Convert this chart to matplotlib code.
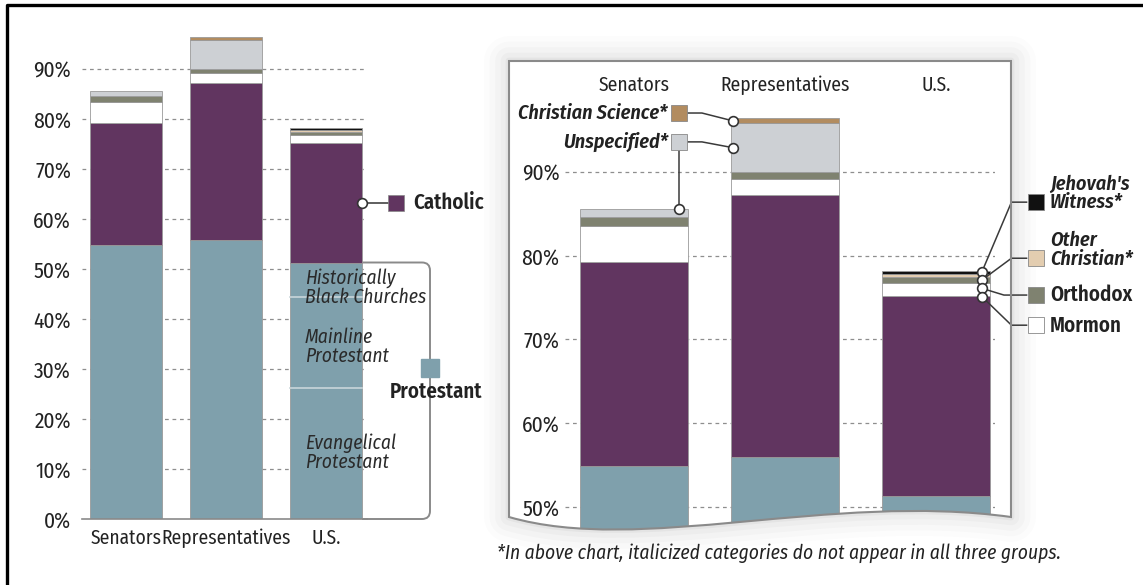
import matplotlib
matplotlib.use('Agg')
import matplotlib.pyplot as plt
from matplotlib.path import Path
from matplotlib.patches import PathPatch
from matplotlib.transforms import Affine2D

plt.rcParams['font.family'] = ['Fira Sans Condensed', 'DejaVu Sans']

# ---- data (percent of each group) ----
groups = ['Senators', 'Representatives', 'U.S.']
protestant = [54.9, 55.9, 51.3]
catholic = [24.3, 31.3, 23.9]
mormon = [4.3, 2.0, 1.6]
orthodox = [1.1, 0.8, 0.6]
other_christian = [0.0, 0.0, 0.4]
jehovahs_witness = [0.0, 0.0, 0.4]
unspecified = [1.0, 5.8, 0.0]
christian_science = [0.0, 0.6, 0.0]

# U.S. protestant breakdown (bottom to top)
us_prot_labels = ['Evangelical\nProtestant', 'Mainline\nProtestant', 'Historically\nBlack Churches']
us_prot_values = [26.3, 18.1, 6.9]

left_ticks = list(range(0, 100, 10))
right_ticks = list(range(50, 100, 10))

series = [
    ('Protestant', protestant, '#7fa0ac'),
    ('Catholic', catholic, '#613560'),
    ('Mormon', mormon, '#ffffff'),
    ('Orthodox', orthodox, '#7f8270'),
    ('Other Christian', other_christian, '#e3cdb0'),
    ("Jehovah's Witness", jehovahs_witness, '#111111'),
    ('Unspecified', unspecified, '#cdd0d4'),
    ('Christian Science', christian_science, '#b28c60'),
]
colors = {name: c for name, vals, c in series}

W, H = 1143, 585
fig = plt.figure(figsize=(W / 100, H / 100), dpi=100)
px = Affine2D().scale(1.0 / W, 1.0 / H) + fig.transFigure   # image pixel helper

FS = 14          # plain labels
FS_TICK = 15.5   # percent ticks
FS_KEY = 15      # semibold legend names
FS_KEYI = 14.5   # semibold italic legend names
txt = '#222222'


def fpos(x0, y_top, x1, y_bot):
    return [x0 / W, 1 - y_bot / H, (x1 - x0) / W, (y_bot - y_top) / H]


def stack(ax, width, clip=None):
    xs = range(len(groups))
    bottoms = [0.0] * len(groups)
    tops = {}
    for name, vals, col in series:
        for i in xs:
            if vals[i] > 0:
                r = ax.bar(i, vals[i], width, bottom=bottoms[i], color=col,
                           edgecolor='#9a9a9a', linewidth=0.6, zorder=2)
                if clip is not None:
                    r[0].set_clip_path(clip)
            tops[(name, i)] = (bottoms[i], bottoms[i] + vals[i])
            bottoms[i] += vals[i]
    return bottoms, tops


# ================= left chart =================
ax1 = fig.add_axes(fpos(82, 19, 367, 519))
ax1.patch.set_visible(False)
ax1.set_xlim(-0.44, 2.41)
ax1.set_ylim(0, 100)
for v in left_ticks[1:]:
    ax1.axhline(v, color='#8e8e8e', lw=0.9, ls=(0, (3, 3)), zorder=0)
bw = 0.72
tot1, seg1 = stack(ax1, bw)
for s in ['top', 'right', 'left']:
    ax1.spines[s].set_visible(False)
ax1.spines['bottom'].set_color('#8a8a8a')
ax1.spines['bottom'].set_linewidth(1.2)
ax1.set_yticks(left_ticks)
ax1.set_yticklabels([f'{v}%' for v in left_ticks], fontsize=FS_TICK, color=txt)
ax1.set_xticks(range(len(groups)))
ax1.set_xticklabels(groups, fontsize=FS, color=txt)
ax1.tick_params(length=0, axis='y', pad=8)
ax1.tick_params(length=0, axis='x', pad=7)

# protestant breakdown in U.S. bar
cum = 0
nudge = [0, -1.0, -1.6]
for lab, v, dy in zip(us_prot_labels, us_prot_values, nudge):
    if cum > 0:
        ax1.plot([2 - bw / 2, 2 + bw / 2], [cum, cum], color='#c9d6da', lw=1.2, zorder=3)
    ax1.text(1.79, cum + v / 2 + dy, lab, fontsize=FS, style='italic', color='#2a2a2a',
             va='center', ha='left', linespacing=0.95, zorder=4)
    cum += v

xr = 2 + bw / 2
# Catholic callout
cb, ct = seg1[('Catholic', 2)]
cy = (cb + ct) / 2
ax1.plot([xr, 2.62], [cy, cy], color='#333', lw=1.1, clip_on=False, zorder=5)
ax1.plot([xr], [cy], 'o', ms=7, mfc='white', mec='#333', mew=1.2, clip_on=False, zorder=6)
ax1.plot([2.695], [cy], 's', ms=12, mfc=colors['Catholic'], mec='#888', mew=0.5, clip_on=False, zorder=6)
ax1.text(2.87, cy, 'Catholic', fontsize=FS_KEY, fontweight='semibold', color=txt, va='center',
         ha='left', clip_on=False)

# Protestant bracket
pt = protestant[2]
xb, rx, ry = 3.04, 0.08, 1.6
verts = [(xr, pt), (xb - rx, pt), (xb, pt), (xb, pt - ry), (xb, ry), (xb, 0), (xb - rx, 0), (xr, 0)]
codes = [Path.MOVETO, Path.LINETO, Path.CURVE3, Path.CURVE3, Path.LINETO, Path.CURVE3, Path.CURVE3, Path.LINETO]
ax1.add_patch(PathPatch(Path(verts, codes), fill=False, edgecolor='#8a8a8a', lw=1.4,
                        clip_on=False, zorder=1))
ax1.plot([xb], [30.2], 's', ms=13, mfc=colors['Protestant'], mec='#7fa0ac', clip_on=False, zorder=6)
ax1.text(3.1, 25.4, 'Protestant', fontsize=FS_KEY, fontweight='semibold', color=txt, va='center',
         ha='center', clip_on=False, zorder=6)

# ================= right (zoomed) panel =================
wave_r, wave_l = (1011, 517), (509, 517)
pv = [(509, 61), (1011, 61), wave_r, (830, 492), (640, 555), wave_l, (509, 61)]
pc = [Path.MOVETO, Path.LINETO, Path.LINETO, Path.CURVE4, Path.CURVE4, Path.CURVE4, Path.CLOSEPOLY]
panel_path = Path([(x, H - y) for x, y in pv], pc)

for lw, a in [(36, 0.010), (28, 0.014), (20, 0.018), (12, 0.024), (5, 0.035)]:
    fig.add_artist(PathPatch(panel_path, transform=px, fill=False, edgecolor='black',
                             lw=lw, alpha=a, zorder=-3, joinstyle='round'))
fig.add_artist(PathPatch(panel_path, transform=px, facecolor='white', edgecolor='none', zorder=-2))
clip = PathPatch(panel_path, transform=px, facecolor='none', edgecolor='none')

ax2 = fig.add_axes(fpos(565, 60.7, 995, 540.3))
ax2.patch.set_visible(False)
ax2.set_xlim(-0.457, 2.391)
ax2.set_ylim(46, 103.3)
for v in right_ticks:
    ln = ax2.axhline(v, color='#8e8e8e', lw=0.9, ls=(0, (3, 3)), zorder=0)
    ln.set_clip_path(clip)
bw2 = 0.715
tot2, seg2 = stack(ax2, bw2, clip=clip)
for s in ax2.spines.values():
    s.set_visible(False)
ax2.set_xticks([])
ax2.set_yticks(right_ticks)
ax2.set_yticklabels([f'{v}%' for v in right_ticks], fontsize=FS_TICK, color=txt)
ax2.tick_params(length=0, axis='y', pad=4)
for i, g in enumerate(groups):
    ax2.text(i, 100.4, g, fontsize=FS, color=txt, ha='center', va='center')

fig.add_artist(PathPatch(panel_path, transform=px, fill=False, edgecolor='#8a8a8a', lw=1.5, zorder=5))

lc = '#3a3a3a'


def circle(ax, x, y):
    ax.plot([x], [y], 'o', ms=7, mfc='white', mec='#333', mew=1.2, clip_on=False, zorder=7)


def square(ax, x, y, c):
    ax.plot([x], [y], 's', ms=12, mfc=c, mec='#888', mew=0.6, clip_on=False, zorder=7)


# left-side callouts (Representatives / Senators)
rl = 1 - bw2 / 2 + 0.015
sx = 0.30
b, t = seg2[('Christian Science', 1)]
ax2.plot([sx, 0.45, rl], [97.05, 97.05, (b + t) / 2], color=lc, lw=1.1, zorder=6)
circle(ax2, rl, (b + t) / 2)
square(ax2, sx, 97.05, colors['Christian Science'])
ax2.text(0.225, 97.05, 'Christian Science*', fontsize=FS_KEYI, fontweight='semibold', style='italic',
         color=txt, ha='right', va='center')

b, t = seg2[('Unspecified', 1)]
ax2.plot([sx, 0.45, rl], [93.6, 93.6, (b + t) / 2], color=lc, lw=1.1, zorder=6)
circle(ax2, rl, (b + t) / 2)
b0, t0 = seg2[('Unspecified', 0)]
ax2.plot([sx, sx], [93.6, t0], color=lc, lw=1.1, zorder=6)
circle(ax2, sx, t0)
square(ax2, sx, 93.6, colors['Unspecified'])
ax2.text(0.225, 93.6, 'Unspecified*', fontsize=FS_KEYI, fontweight='semibold', style='italic',
         color=txt, ha='right', va='center')

# right-side callouts (U.S.)
us_items = [("Jehovah's Witness", "Jehovah's\nWitness*", 86.4, 2.50, True, 1.1),
            ('Other Christian', 'Other\nChristian*', 79.7, 2.50, True, 1.0),
            ('Orthodox', 'Orthodox', 75.3, 2.45, False, 0.0),
            ('Mormon', 'Mormon', 71.7, 2.50, False, -0.1)]
cx = 2 + 0.305
for k, (name, lab, ly, kx, ital, dy) in enumerate(us_items):
    cyy = tot2[2] - 0.1 - 1.0 * k
    ax2.plot([cx, kx, 2.60], [cyy, ly, ly], color=lc, lw=1.1, clip_on=False, zorder=6)
    circle(ax2, cx, cyy)
    square(ax2, 2.66, ly, colors[name])
    ax2.text(2.755, ly + dy, lab, fontsize=FS_KEYI if ital else FS_KEY, fontweight='semibold',
             style='italic' if ital else 'normal', color=txt, ha='left', va='center',
             linespacing=0.92, clip_on=False)

fig.text(497 / W, 1 - 553 / H, '*In above chart, italicized categories do not appear in all three groups.',
         fontsize=FS, style='italic', color=txt, ha='left', va='center')

# outer frame (top and left)
fig.add_artist(plt.Line2D([7 / W, 7 / W, 1.0], [0.0, 1 - 5 / H, 1 - 5 / H], transform=fig.transFigure,
                          color='black', lw=2.4, zorder=10))

fig.savefig('out.png', dpi=100)
